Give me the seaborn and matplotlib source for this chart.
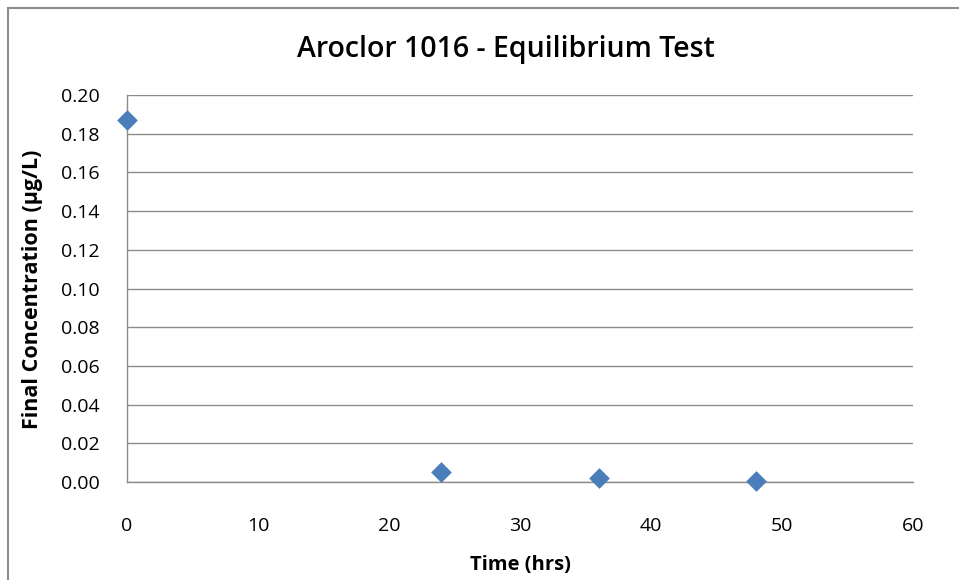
import pandas as pd
import numpy as np
import matplotlib
matplotlib.use("Agg")
import matplotlib.pyplot as plt
import seaborn as sns
from matplotlib.patches import Rectangle

# Values
time_hrs = [0, 24, 36, 48]
final_conc = [0.187, 0.0052, 0.0022, 0.0007]

x_ticks = [0, 10, 20, 30, 40, 50, 60]
y_ticks = [0.00, 0.02, 0.04, 0.06, 0.08, 0.10, 0.12, 0.14, 0.16, 0.18, 0.20]

df = pd.DataFrame({"Time (hrs)": time_hrs, "Final Concentration": final_conc})

sns.set_style("white")
plt.rcParams["font.family"] = ["Open Sans", "DejaVu Sans"]
plt.rcParams["text.color"] = "black"

fig = plt.figure(figsize=(9.59, 5.8), dpi=100)
ax = fig.add_axes([127 / 959, 1 - 482 / 580, (913 - 127) / 959, (482 - 95) / 580])

# horizontal gridlines like an Excel chart
for yv in y_ticks:
    ax.axhline(yv, color="#8c8c8c", lw=1.0, zorder=0)

sns.scatterplot(data=df, x="Time (hrs)", y="Final Concentration", marker="D",
                s=100, color="#4a7ebb", edgecolor="#4a7ebb", linewidth=0.5,
                ax=ax, zorder=3, clip_on=False)

ax.set_xlim(0, 60)
ax.set_ylim(0, 0.20)
ax.set_xticks(x_ticks)
ax.set_yticks(y_ticks)
ax.set_yticklabels([f"{v:.2f}" for v in y_ticks])
ax.tick_params(axis="both", direction="out", length=6.5, width=1, color="#8c8c8c",
               labelsize=14, labelcolor="black")
ax.tick_params(axis="x", pad=19)
ax.tick_params(axis="y", pad=13)

for side in ["top", "right"]:
    ax.spines[side].set_visible(False)
for side in ["left", "bottom"]:
    ax.spines[side].set_color("#8c8c8c")
    ax.spines[side].set_linewidth(1.0)

ax.set_xlabel("")
ax.set_ylabel("")
fig.text(520 / 959, 1 - 565 / 580, "Time (hrs)", ha="center", va="center",
         fontsize=14.5, fontweight="bold")
fig.text(33 / 959, 1 - 289 / 580, "Final Concentration (µg/L)", ha="center",
         va="center", rotation=90, fontsize=15.5, fontweight="bold")
fig.text(506 / 959, 1 - 49 / 580, "Aroclor 1016 - Equilibrium Test", ha="center",
         va="center", fontsize=20.5, fontweight="semibold")

# outer chart border
fig.patches.append(Rectangle((8 / 959, -0.01), 1.0, 1 - 8 / 580 + 0.01,
                             transform=fig.transFigure, fill=False,
                             edgecolor="#8c8c8c", lw=1.5))

fig.savefig("out.png", dpi=100)
